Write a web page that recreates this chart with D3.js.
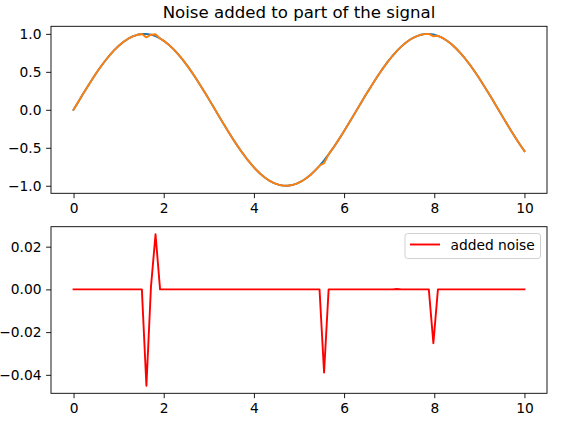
<!DOCTYPE html>
<html><head><meta charset="utf-8">
<script src="https://cdn.jsdelivr.net/npm/d3@7/dist/d3.min.js"></script>
<style>body{margin:0;background:#fff}svg{display:block;font-family:"DejaVu Sans",sans-serif}</style>
</head><body><svg id="c" width="564" height="427"></svg>
<script>
// x positions: 100 evenly spaced samples from 0 to 10
const xValues = [0,0.101,0.202,0.303,0.404,0.505,0.606,0.707,0.808,0.909,1.010,1.111,1.212,1.313,1.414,1.515,1.616,1.717,1.818,1.919,2.020,2.121,2.222,2.323,2.424,2.525,2.626,2.727,2.828,2.929,3.030,3.131,3.232,3.333,3.434,3.535,3.636,3.737,3.838,3.939,4.040,4.141,4.242,4.343,4.444,4.545,4.646,4.747,4.848,4.949,5.051,5.152,5.253,5.354,5.455,5.556,5.657,5.758,5.859,5.960,6.061,6.162,6.263,6.364,6.465,6.566,6.667,6.768,6.869,6.970,7.071,7.172,7.273,7.374,7.475,7.576,7.677,7.778,7.879,7.980,8.081,8.182,8.283,8.384,8.485,8.586,8.687,8.788,8.889,8.990,9.091,9.192,9.293,9.394,9.495,9.596,9.697,9.798,9.899,10];
// original signal
const signalValues = [0,0.1008,0.2007,0.2984,0.3931,0.4839,0.5696,0.6496,0.7230,0.7889,0.8469,0.8962,0.9364,0.9670,0.9878,0.9985,0.9990,0.9893,0.9695,0.9399,0.9007,0.8523,0.7952,0.7300,0.6577,0.5781,0.4929,0.4026,0.3082,0.2107,0.1111,0.0103,-0.0906,-0.1906,-0.2886,-0.3837,-0.4748,-0.5612,-0.6418,-0.7158,-0.7826,-0.8414,-0.8917,-0.9329,-0.9646,-0.9865,-0.9978,-0.9994,-0.9908,-0.9720,-0.9434,-0.9052,-0.8577,-0.8014,-0.7369,-0.6651,-0.5865,-0.5017,-0.4120,-0.3180,-0.2207,-0.1213,-0.0206,0.0804,0.1805,0.2787,0.3742,0.4658,0.5526,0.6338,0.7085,0.7759,0.8354,0.8863,0.9287,0.9615,0.9844,0.9971,0.9997,0.9921,0.9744,0.9467,0.9095,0.8629,0.8075,0.7439,0.6728,0.5948,0.5107,0.4214,0.3278,0.2308,0.1316,0.0308,-0.0701,-0.1704,-0.2688,-0.3646,-0.4566,-0.5440];
// added noise (difference between noisy and original signal)
const noiseValues = [0,0,0,0,0,0,0,0,0,0,0,0,0,0,0,0,-0.0451,0.0012,0.0258,0,0,0,0,0,0,0,0,0,0,0,0,0,0,0,0,0,0,0,0,0,0,0,0,0,0,0,0,0,0,0,0,0,0,0,0,-0.0389,0,0,0,0,0,0,0,0,0,0,0,0,0,0,0,0.0002,0,0,0,0,0,0,0,-0.0252,0,0,0,0,0,0,0,0,0,0,0,0,0,0,0,0,0,0,0,0];
const xTicks = [0,2,4,6,8,10];
const topYTicks = [-1.0,-0.5,0.0,0.5,1.0];
const botYTicks = [-0.04,-0.02,0.00,0.02];
const titleText = "Noise added to part of the signal";
const legendLabel = "added noise";

const noisyValues = signalValues.map((v,i)=>v+noiseValues[i]);
const svg = d3.select("#c");
const L=51, R=547;
const top1=26.3, bot1=193.3, top2=226.7, bot2=393.3;
const FS = "13.8px", LW = 1.9;

function pad(ext){const r=ext[1]-ext[0];return [ext[0]-0.05*r, ext[1]+0.05*r];}
const x = d3.scaleLinear().domain(pad(d3.extent(xValues))).range([L,R]);
const y1 = d3.scaleLinear().domain(pad(d3.extent(signalValues.concat(noisyValues)))).range([bot1,top1]);
const y2 = d3.scaleLinear().domain(pad(d3.extent(noiseValues))).range([bot2,top2]);
const minus = s => s.replace("-","\u2212");

function axes(y, yt, fmt, t, b){
  const gx = svg.append("g").attr("transform",`translate(0,${b})`)
    .call(d3.axisBottom(x).tickValues(xTicks).tickSize(4.9).tickPadding(4.6).tickFormat(d3.format("d")));
  const gy = svg.append("g").attr("transform",`translate(${L},0)`)
    .call(d3.axisLeft(y).tickValues(yt).tickSize(4.9).tickPadding(4.6).tickFormat(d=>minus(d3.format(fmt)(d))));
  [gx,gy].forEach(g=>{g.select(".domain").remove();g.selectAll("line").attr("stroke","#000").attr("stroke-width",0.9);
    g.selectAll("text").attr("fill","#000").attr("font-size",FS).attr("font-family","DejaVu Sans");});
  return ()=>svg.append("rect").attr("x",L).attr("y",t).attr("width",R-L).attr("height",b-t)
    .attr("fill","none").attr("stroke","#000").attr("stroke-width",0.9);
}
const f1 = axes(y1, topYTicks, ".1f", top1, bot1);
const f2 = axes(y2, botYTicks, ".2f", top2, bot2);

svg.append("clipPath").attr("id","cp1").append("rect").attr("x",L).attr("y",top1).attr("width",R-L).attr("height",bot1-top1);
svg.append("clipPath").attr("id","cp2").append("rect").attr("x",L).attr("y",top2).attr("width",R-L).attr("height",bot2-top2);

const line1 = arr => d3.line().x((d,i)=>x(xValues[i])).y(d=>y1(d))(arr);
const line2 = arr => d3.line().x((d,i)=>x(xValues[i])).y(d=>y2(d))(arr);
svg.append("path").attr("d",line1(signalValues)).attr("fill","none").attr("stroke","#1f77b4").attr("stroke-width",LW).attr("stroke-linejoin","round").attr("stroke-linecap","square").attr("clip-path","url(#cp1)");
svg.append("path").attr("d",line1(noisyValues)).attr("fill","none").attr("stroke","#ff7f0e").attr("stroke-width",LW).attr("stroke-linejoin","round").attr("stroke-linecap","square").attr("clip-path","url(#cp1)");
svg.append("path").attr("d",line2(noiseValues)).attr("fill","none").attr("stroke","#ff0000").attr("stroke-width",LW).attr("stroke-linejoin","round").attr("stroke-linecap","square").attr("clip-path","url(#cp2)");
f1(); f2();

svg.append("text").attr("x",(L+R)/2).attr("y",18).attr("text-anchor","middle").attr("font-size","16.6px").attr("fill","#000").text(titleText);

// legend
const lg = svg.append("g");
lg.append("rect").attr("x",405).attr("y",233.5).attr("width",135.5).attr("height",25).attr("rx",2.5)
  .attr("fill","#fff").attr("fill-opacity",0.8).attr("stroke","#ccc").attr("stroke-width",0.9);
lg.append("line").attr("x1",410).attr("x2",440).attr("y1",244.5).attr("y2",244.5).attr("stroke","#ff0000").attr("stroke-width",LW);
lg.append("text").attr("x",450.5).attr("y",250).attr("font-size",FS).attr("fill","#000").text(legendLabel);
</script></body></html>
